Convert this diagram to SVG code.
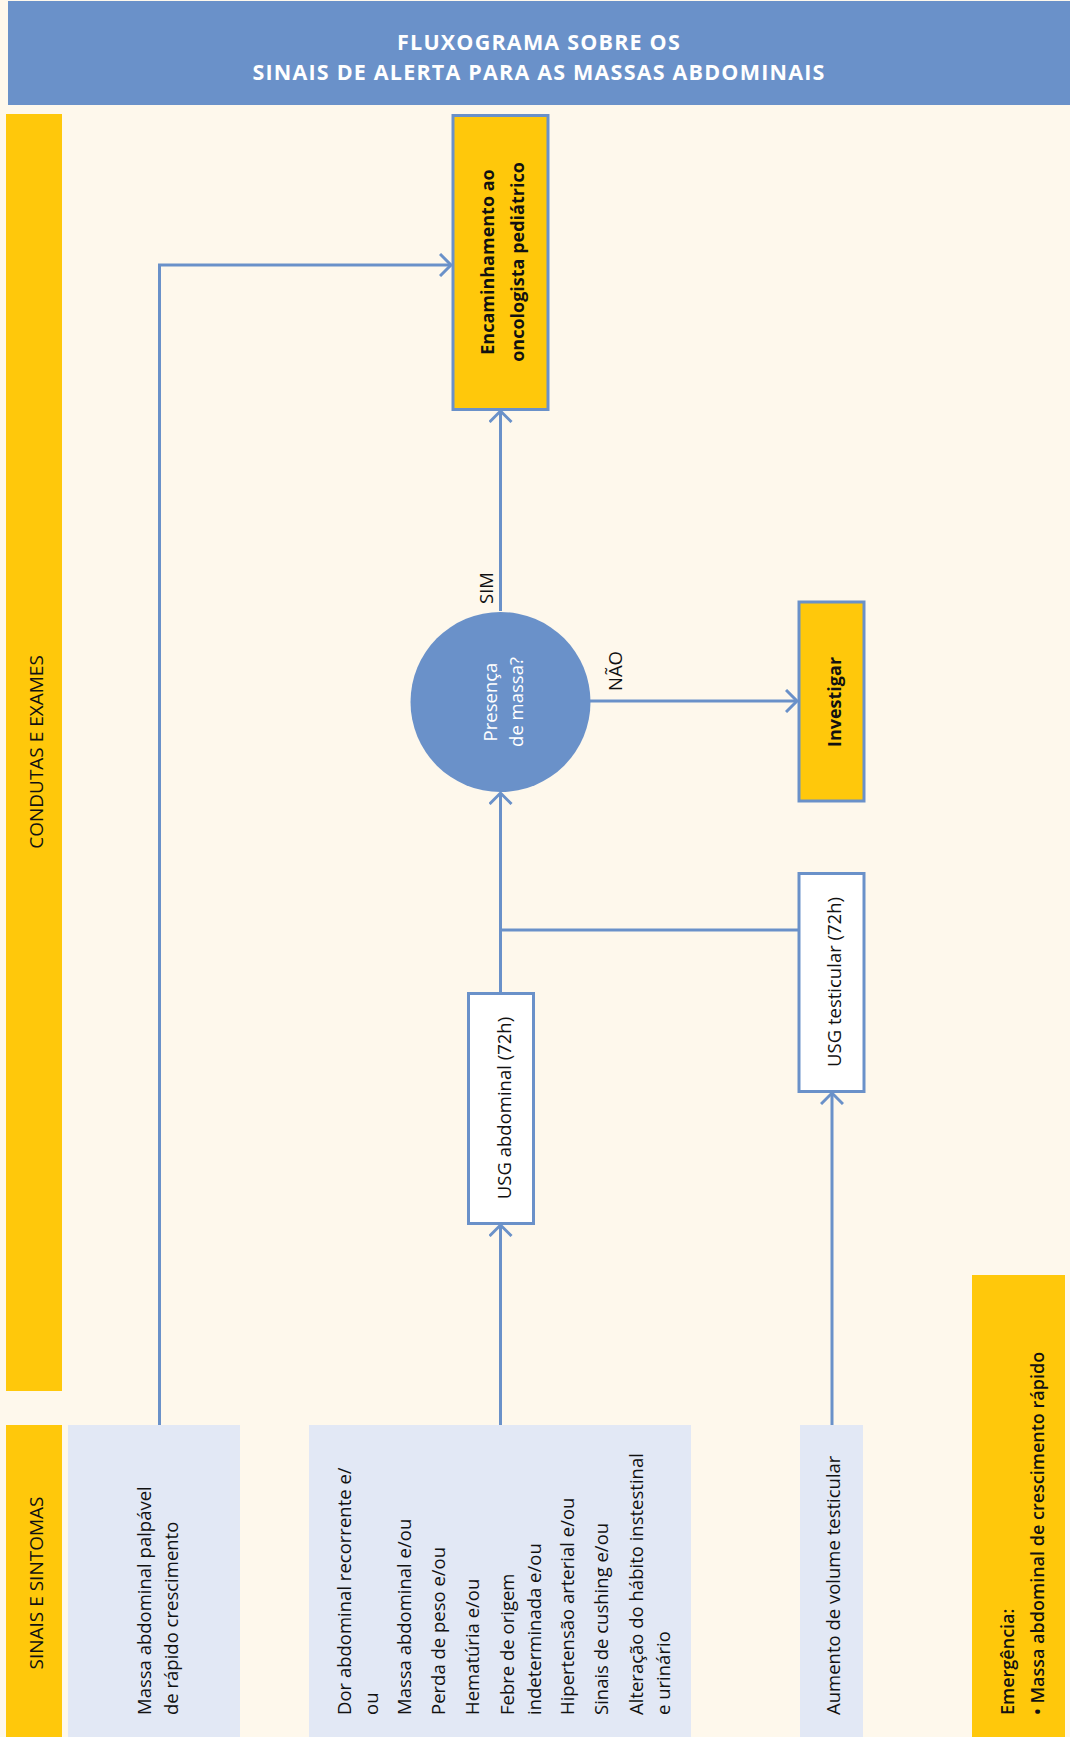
<svg xmlns="http://www.w3.org/2000/svg" width="1070" height="1737" viewBox="0 0 1070 1737">
  <style>
    text { font-family: "Open Sans", "Noto Sans", "DejaVu Sans", sans-serif; fill: #111; dominant-baseline: central; }
    .reg { font-size: 18.5px; }
    .bold { font-size: 18px; font-weight: 700; }
    .semi { font-size: 18px; font-weight: 600; }
    .lane { font-size: 19px; }
    .title { font-size: 21.5px; font-weight: 700; fill: #fff; text-anchor: middle; letter-spacing: 1.2px; }
    .white { fill: #fff; }
    .mid { text-anchor: middle; }
    .start { text-anchor: start; }
    .band { fill: #FFC80B; }
    .sym { fill: #E2E8F5; }
    .step { fill: #FFC80B; stroke: #6A91C9; stroke-width: 3; }
    .exam { fill: #fff; stroke: #6A91C9; stroke-width: 3; }
    .conn { fill: none; stroke: #6A91C9; stroke-width: 3; }
  </style>
  <defs>
    <marker id="arrow" viewBox="0 0 24 24" markerWidth="24" markerHeight="24" refX="12" refY="12" orient="auto" markerUnits="userSpaceOnUse">
      <path d="M1,1 L12,12 L1,23" fill="none" stroke="#6A91C9" stroke-width="3"/>
    </marker>
  </defs>

  <!-- page background -->
  <rect x="0" y="0" width="1070" height="1737" fill="#FEF8EC"/>

  <!-- title bar -->
  <g id="header">
    <rect x="8" y="1" width="1062" height="104" fill="#6A91C9"/>
    <text class="title" x="539" y="41.5">FLUXOGRAMA SOBRE OS</text>
    <text class="title" x="539" y="71">SINAIS DE ALERTA PARA AS MASSAS ABDOMINAIS</text>
  </g>

  <!-- lane labels -->
  <g id="lane-condutas">
    <rect class="band" x="6" y="114" width="56" height="1277"/>
    <text class="lane mid" transform="translate(36,752) rotate(-90)">CONDUTAS E EXAMES</text>
  </g>
  <g id="lane-sinais">
    <rect class="band" x="6" y="1425" width="56" height="312"/>
    <text class="lane mid" transform="translate(36,1583) rotate(-90)">SINAIS E SINTOMAS</text>
  </g>

  <!-- connectors -->
  <g id="connectors">
    <path class="conn" d="M159.5,1425 V265 H451" marker-end="url(#arrow)"/>
    <path class="conn" d="M500.5,611 V411" marker-end="url(#arrow)"/>
    <path class="conn" d="M590,701 H797" marker-end="url(#arrow)"/>
    <path class="conn" d="M500.5,993 V793" marker-end="url(#arrow)"/>
    <path class="conn" d="M798,930 H500.5"/>
    <path class="conn" d="M500.5,1425 V1225" marker-end="url(#arrow)"/>
    <path class="conn" d="M832,1425 V1093" marker-end="url(#arrow)"/>
    <text class="reg mid" transform="translate(485,588) rotate(-90)">SIM</text>
    <text class="reg mid" transform="translate(614,671) rotate(-90)">NÃO</text>
  </g>

  <!-- symptom boxes -->
  <g id="sintoma-massa">
    <rect class="sym" x="68" y="1425" width="172" height="312"/>
    <text class="reg start" transform="translate(143,1715) rotate(-90)">Massa abdominal palpável</text>
    <text class="reg start" transform="translate(170,1715) rotate(-90)">de rápido crescimento</text>
  </g>
  <g id="sintoma-lista">
    <rect class="sym" x="309" y="1425" width="382" height="312"/>
    <text class="reg start" transform="translate(343,1715) rotate(-90)">Dor abdominal recorrente e/</text>
    <text class="reg start" transform="translate(370,1715) rotate(-90)">ou</text>
    <text class="reg start" transform="translate(403,1715) rotate(-90)">Massa abdominal e/ou</text>
    <text class="reg start" transform="translate(437,1715) rotate(-90)">Perda de peso e/ou</text>
    <text class="reg start" transform="translate(471,1715) rotate(-90)">Hematúria e/ou</text>
    <text class="reg start" transform="translate(506,1715) rotate(-90)">Febre de origem</text>
    <text class="reg start" transform="translate(533,1715) rotate(-90)">indeterminada e/ou</text>
    <text class="reg start" transform="translate(566,1715) rotate(-90)">Hipertensão arterial e/ou</text>
    <text class="reg start" transform="translate(600,1715) rotate(-90)">Sinais de cushing e/ou</text>
    <text class="reg start" transform="translate(635,1715) rotate(-90)">Alteração do hábito instestinal</text>
    <text class="reg start" transform="translate(662,1715) rotate(-90)">e urinário</text>
  </g>
  <g id="sintoma-testicular">
    <rect class="sym" x="800" y="1425" width="63" height="312"/>
    <text class="reg start" transform="translate(832,1715) rotate(-90)">Aumento de volume testicular</text>
  </g>

  <!-- emergency note -->
  <g id="emergencia">
    <rect class="band" x="972" y="1275" width="93" height="462"/>
    <text class="semi start" transform="translate(1007,1715) rotate(-90)">Emergência:</text>
    <text class="semi start" transform="translate(1037,1715) rotate(-90)">• Massa abdominal de crescimento rápido</text>
  </g>

  <!-- exams -->
  <g id="usg-abdominal">
    <rect class="exam" x="468.5" y="993.5" width="65" height="230"/>
    <text class="reg mid" transform="translate(503,1108) rotate(-90)">USG abdominal (72h)</text>
  </g>
  <g id="usg-testicular">
    <rect class="exam" x="799" y="873.5" width="65" height="218"/>
    <text class="reg mid" transform="translate(833,982) rotate(-90)">USG testicular (72h)</text>
  </g>

  <!-- decision -->
  <g id="presenca-massa">
    <circle cx="500.5" cy="702" r="90" fill="#6A91C9"/>
    <text class="reg mid white" transform="translate(489,702) rotate(-90)">Presença</text>
    <text class="reg mid white" transform="translate(515,702) rotate(-90)">de massa?</text>
  </g>

  <!-- outcomes -->
  <g id="encaminhamento">
    <rect class="step" x="453" y="115.5" width="95" height="294"/>
    <text class="bold mid" transform="translate(487,262) rotate(-90)">Encaminhamento ao</text>
    <text class="bold mid" transform="translate(517,262) rotate(-90)">oncologista pediátrico</text>
  </g>
  <g id="investigar">
    <rect class="step" x="799" y="602" width="65" height="199"/>
    <text class="bold mid" transform="translate(834,702) rotate(-90)">Investigar</text>
  </g>
</svg>
